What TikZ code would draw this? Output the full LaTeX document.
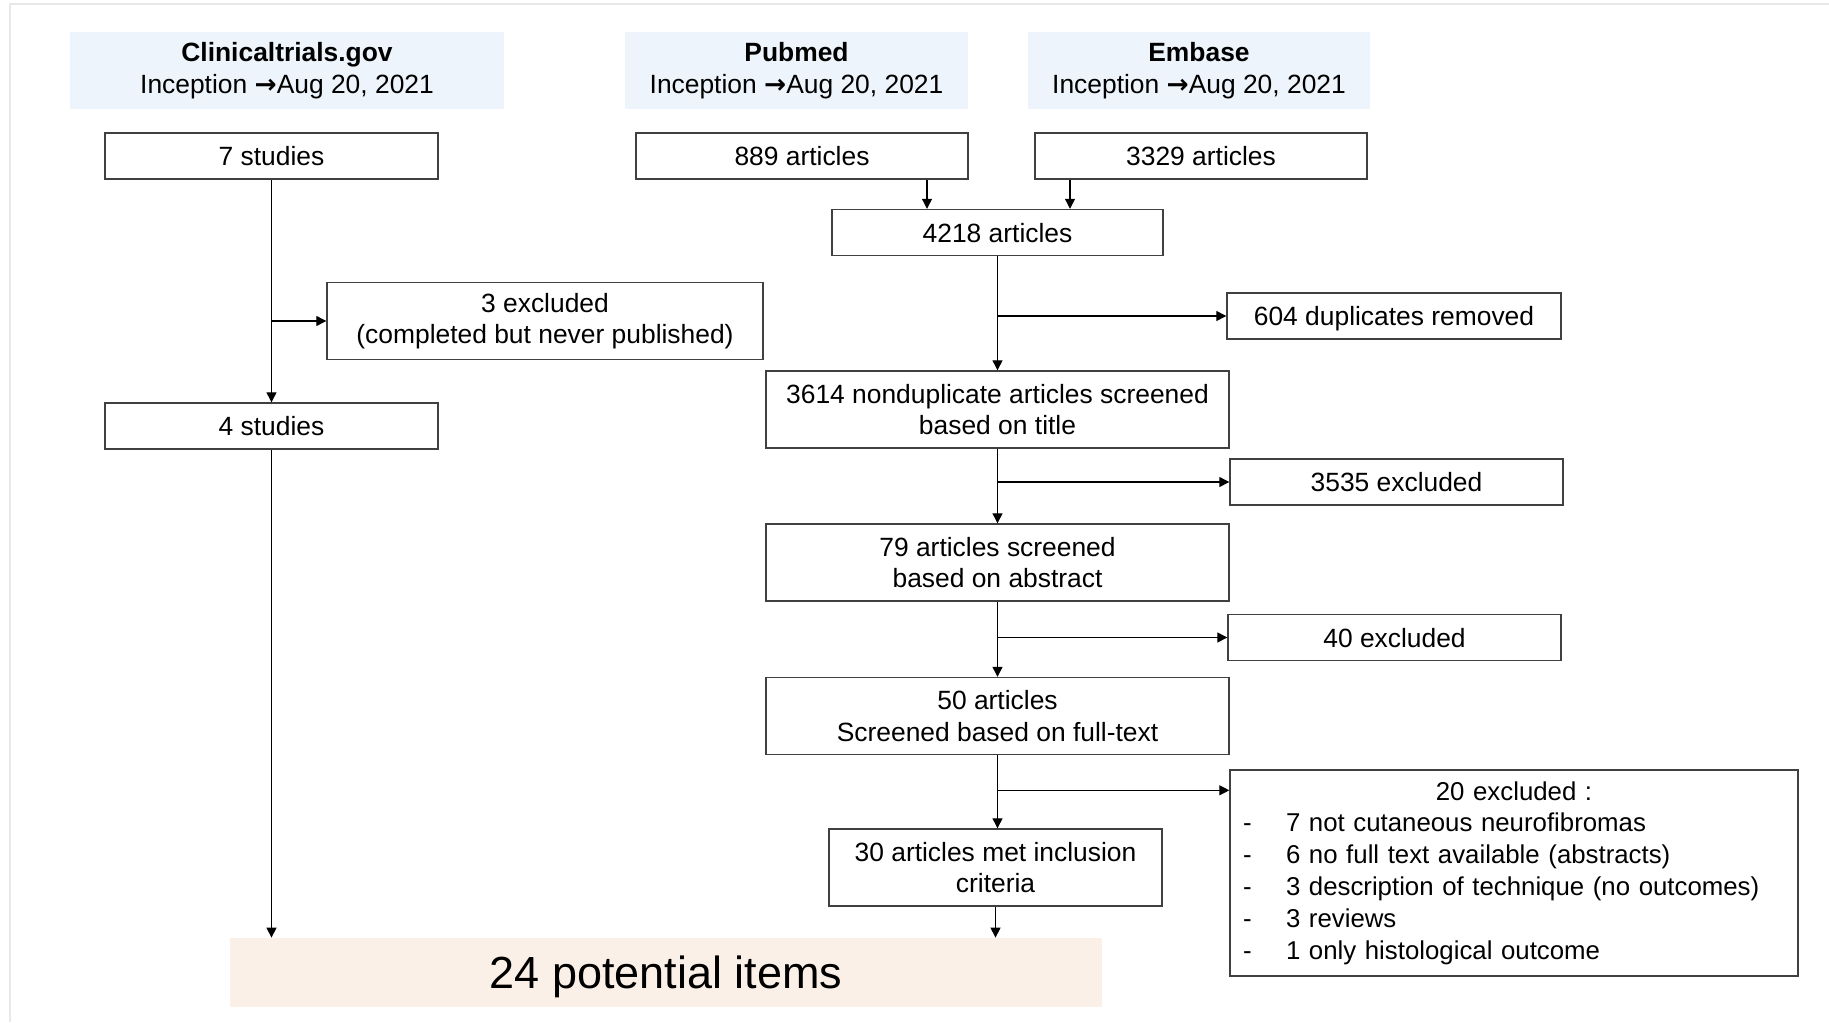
\documentclass[tikz,border=0pt]{standalone}
\usepackage{fontspec}
\setmainfont{Liberation Sans}
\newfontfamily\arrowfont{DejaVu Sans}
\usepackage{xcolor}
\usepackage{tikz}
\usetikzlibrary{arrows.meta,positioning,calc}
\definecolor{hdrblue}{RGB}{237,244,251}
\definecolor{itempeach}{RGB}{251,240,232}
\definecolor{boxgray}{RGB}{64,64,64}
\definecolor{framegray}{RGB}{232,232,232}
\newcommand{\upto}{{\arrowfont\bfseries →}}

\begin{document}
\begin{tikzpicture}[
    x=0.5pt, y=-0.5pt,
    src/.style={rectangle, fill=hdrblue, minimum width=#1, minimum height=38.5pt,
                align=center, font=\fontsize{13.2pt}{15.8pt}\selectfont},
    box/.style={rectangle, draw=boxgray, line width=0.7pt, fill=white,
                minimum width=#1, minimum height=23pt, inner sep=2pt,
                align=center, font=\fontsize{13.2pt}{15.8pt}\selectfont},
    one/.style={text height=9.5pt, text depth=0pt},
    tall/.style={minimum height=38.5pt},
    item/.style={rectangle, fill=itempeach, minimum width=436pt, minimum height=34.5pt,
                 text depth=0pt, font=\fontsize{22.5pt}{27pt}\selectfont},
    arrow/.style={-{Triangle[length=5pt,width=5pt]}, line width=0.6pt}
]
\useasboundingbox (0,0) rectangle (1829,1022);
\draw[framegray, line width=1pt] (10,1022) -- (10,4) -- (1829,4);

\node[src=217pt] (hclin) at (287,70.5) {\textbf{Clinicaltrials.gov}\\Inception \upto Aug 20, 2021};
\node[src=171.5pt] (hpub) at (796.5,70.5) {\textbf{Pubmed}\\Inception \upto Aug 20, 2021};
\node[src=171pt] (hemb) at (1199,70.5) {\textbf{Embase}\\Inception \upto Aug 20, 2021};

\node[box=166.5pt, one] (s7) at (271.5,156) {7 studies};
\node[box=166pt, one] (a889) at (802,156) {889 articles};
\node[box=166pt, one] (a3329) at (1201,156) {3329 articles};
\node[box=165.5pt, one] (a4218) at (997.5,232.5) {4218 articles};
\node[box=218pt, tall] (ex3) at (545,321) {3 excluded\\(completed but never published)};
\node[box=167pt, one] (dup604) at (1394,316) {604 duplicates removed};
\node[box=166.5pt, one] (s4) at (271.5,426) {4 studies};
\node[box=231.5pt, tall] (t3614) at (997.5,409.5) {3614 nonduplicate articles screened\\based on title};
\node[box=166.5pt, one] (ex3535) at (1396.5,482) {3535 excluded};
\node[box=231.5pt, tall] (a79) at (997.5,562.5) {79 articles screened\\based on abstract};
\node[box=166.5pt, one] (ex40) at (1394.5,637.5) {40 excluded};
\node[box=231.5pt, tall] (a50) at (997.5,716) {50 articles\\Screened based on full-text};
\node[box=166.5pt, tall] (a30) at (995.5,867.5) {30 articles met inclusion\\criteria};
\node[box=284pt, minimum height=103pt, inner xsep=6.5pt, text width=271pt, align=left,
      font=\fontsize{12.9pt}{15.9pt}\selectfont] (ex20) at (1514,873)
    {\makebox[\linewidth][c]{20 excluded :}\\
     \makebox[21.5pt][l]{-}7 not cutaneous neurofibromas\\
     \makebox[21.5pt][l]{-}6 no full text available (abstracts)\\
     \makebox[21.5pt][l]{-}3 description of technique (no outcomes)\\
     \makebox[21.5pt][l]{-}3 reviews\\
     \makebox[21.5pt][l]{-}1 only histological outcome};
\node[item] (pot) at (666,972.5) {24 potential items};

\coordinate (j889) at ([xshift=-35.25pt]a4218.north);
\coordinate (j3329) at ([xshift=36.25pt]a4218.north);
\coordinate (ex20in) at ([yshift=-10.5pt]ex20.north west);

\draw[arrow] (s7) -- (s4);
\draw[arrow] (s7 |- ex3.west) -- (ex3.west);
\draw[arrow] (a889.south -| j889) -- (j889);
\draw[arrow] (a3329.south -| j3329) -- (j3329);
\draw[arrow] (a4218) -- (t3614);
\draw[arrow] (a4218 |- dup604) -- (dup604);
\draw[arrow] (t3614) -- (a79);
\draw[arrow] (t3614 |- ex3535) -- (ex3535);
\draw[arrow] (a79) -- (a50);
\draw[arrow] (a79 |- ex40) -- (ex40);
\draw[arrow] (a50) -- (a50 |- a30.north);
\draw[arrow] (a50 |- ex20in) -- (ex20in);
\draw[arrow] (s4) -- (s4 |- pot.north);
\draw[arrow] (a30) -- (a30 |- pot.north);
\end{tikzpicture}
\end{document}
